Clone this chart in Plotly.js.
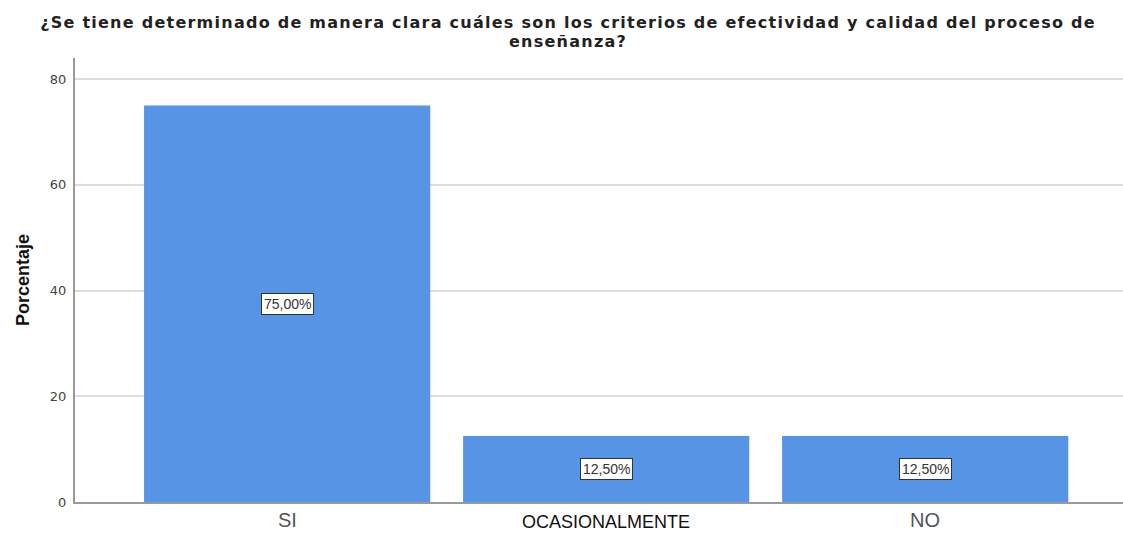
<!DOCTYPE html>
<html><head><meta charset="utf-8">
<script src="https://cdn.plot.ly/plotly-3.0.1.min.js"></script>
<style>
html,body{margin:0;padding:0;background:#fff}#c{width:1123px;height:534px}
</style>
</head><body><div id="c"></div>
<script>
const categories = ["SI", "OCASIONALMENTE", "NO"];
const values = [75, 12.5, 12.5];
const valueLabels = ["75,00%", "12,50%", "12,50%"];
const yTicks = [0, 20, 40, 60, 80];
const titleLines = ["¿Se tiene determinado de manera clara cuáles son los criterios de efectividad y calidad del proceso de", "enseñanza?"];
const labelShift = [0, -3, 0];

const idx = categories.map((_, i) => i);
const trace = {
  type: "bar", x: idx, y: values, width: 0.897,
  marker: {color: "#5694E5", line: {width: 0}},
  hoverinfo: "skip"
};
const annotations = [];
idx.forEach(i => {
  annotations.push({
    x: i, y: values[i] / 2, xref: "x", yref: "y", text: valueLabels[i], showarrow: false,
    font: {family: "Liberation Sans, Arial, sans-serif", size: 14, color: "#333"},
    bgcolor: "#fff", bordercolor: "#333", borderwidth: 1, borderpad: 2
  });
  annotations.push({
    x: i, y: 0, xref: "x", yref: "paper", yanchor: "top", yshift: -6 + labelShift[i], borderpad: 0,
    text: categories[i], showarrow: false,
    font: {family: "Liberation Sans, Arial, sans-serif", size: i === 1 ? 18 : 20, color: i === 1 ? "#111" : "#555"}
  });
});
const titleY = [22, 41];
titleLines.forEach((t, k) => {
  annotations.push({
    x: 0.5, y: 1, xref: "paper", yref: "paper", yanchor: "middle", xanchor: "center",
    yshift: 58 - titleY[k], text: t, showarrow: false, borderpad: 0,
    font: {family: "DejaVu Sans, sans-serif", size: 16, color: "#222", weight: "bold"}
  });
});
const layout = {
  width: 1123, height: 534,
  margin: {l: 75, r: 0, t: 58, b: 32},
  paper_bgcolor: "#fff", plot_bgcolor: "#fff",
  showlegend: false,
  xaxis: {range: [-0.665, 2.62], showticklabels: false, showgrid: false, zeroline: false,
          showline: true, linecolor: "#999", linewidth: 2, ticks: ""},
  yaxis: {range: [0, 84], tickvals: yTicks, showgrid: true, gridcolor: "#ddd", gridwidth: 2,
          zeroline: false, showline: true, linecolor: "#999", linewidth: 2, ticks: "",
          tickfont: {family: "DejaVu Sans, sans-serif", size: 13, color: "#444"},
          ticklabelstandoff: 4,
          title: {text: "Porcentaje", standoff: 16,
                  font: {family: "Liberation Sans, Arial, sans-serif", size: 18, color: "#111", weight: "bold"}}},
  annotations: annotations
};
Plotly.newPlot("c", [trace], layout, {staticPlot: true}).then(() => {
  const host = document.getElementById("c").getBoundingClientRect();
  document.querySelectorAll("#c .annotation-text").forEach(el => {
    if (!titleLines.includes(el.textContent)) return;
    el.style.letterSpacing = "1.25px";
    const r = el.getBoundingClientRect();
    const dx = 568 - (r.left - host.left + r.width / 2);
    el.setAttribute("transform", "translate(" + dx.toFixed(1) + ",0)");
  });
});
</script></body></html>
